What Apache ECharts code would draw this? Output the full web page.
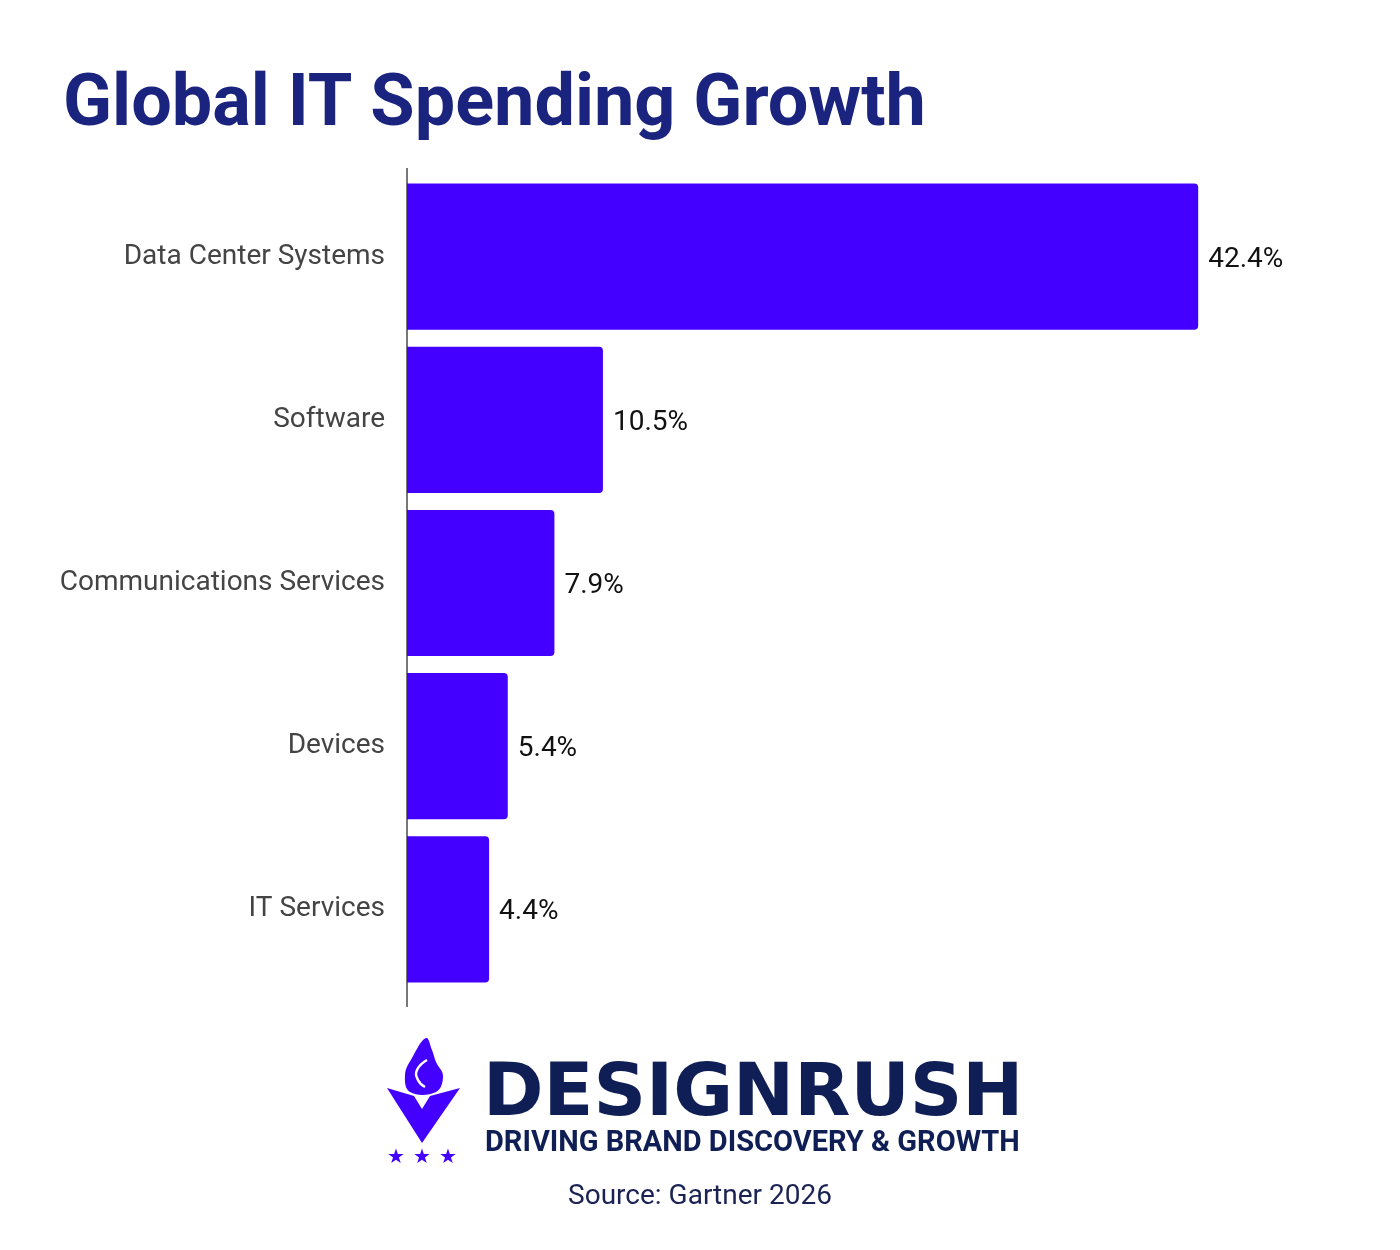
<!DOCTYPE html>
<html>
<head>
<meta charset="utf-8">
<title>Global IT Spending Growth</title>
<script src="https://cdn.jsdelivr.net/npm/echarts@6/dist/echarts.min.js"></script>
<style>
  html, body { margin: 0; padding: 0; background: #fff; }
  #chart { width: 1400px; height: 1250px; }
</style>
</head>
<body>
<div id="chart"></div>
<script>
// data
const categories = ['Data Center Systems', 'Software', 'Communications Services', 'Devices', 'IT Services']
const growth = [42.4, 10.5, 7.9, 5.4, 4.4]

const barColor = '#4400ff'
const navy = '#0f1f55'

const chart = echarts.init(document.getElementById('chart'))

const options = {
  backgroundColor: '#fff',
  animation: false,
  title: {
    text: 'Global IT Spending Growth',
    left: 58,
    top: 66,
    textStyle: {
      fontFamily: 'Roboto',
      fontSize: 72,
      fontWeight: 'bold',
      color: '#1a237e',
    },
  },
  grid: {
    top: 175,
    bottom: 259,
    left: 407,
    right: 60,
  },
  xAxis: {
    type: 'value',
    min: 0,
    max: 50,
    show: false,
  },
  yAxis: {
    type: 'category',
    data: categories,
    inverse: true,
    axisTick: { show: false },
    // axis line drawn below as a graphic, it runs past the bands
    axisLine: { show: false },
    axisLabel: {
      fontFamily: 'Roboto',
      fontSize: 28,
      color: '#444',
      margin: 22,
      padding: [6, 0, 0, 0],
    },
  },
  series: [
    {
      type: 'bar',
      data: growth,
      barCategoryGap: '10.4%',
      itemStyle: {
        color: barColor,
        borderRadius: [0, 4, 4, 0],
      },
      label: {
        show: true,
        position: 'right',
        distance: 10,
        offset: [0, 3],
        fontFamily: 'Roboto',
        fontSize: 28,
        color: '#111',
        formatter: (p) => p.value.toFixed(1) + '%',
      },
    },
  ],
  graphic: [
    {
      type: 'line',
      shape: { x1: 407, y1: 168, x2: 407, y2: 1007 },
      style: { stroke: '#777', lineWidth: 2 },
    },
    // logo emblem: V
    {
      type: 'polygon',
      shape: {
        points: [[387, 1088], [414, 1096], [422, 1109], [430, 1096], [460, 1088], [422, 1143]],
      },
      style: { fill: barColor },
    },
    // flame
    {
      type: 'polygon',
      shape: {
        points: [[426, 1038], [412, 1058], [405, 1075], [410, 1092], [436, 1092], [443, 1076], [436, 1062], [432, 1050]],
        smooth: 0.4,
      },
      style: { fill: barColor },
    },
    {
      type: 'polyline',
      shape: {
        points: [[427, 1060], [417, 1070], [418, 1080], [425, 1087]],
        smooth: 0.5,
      },
      style: { fill: null, stroke: '#fff', lineWidth: 2.5 },
    },
    // stars
    { type: 'text', left: 387, top: 1148, style: { text: '★', font: '20px "DejaVu Sans"', fill: barColor } },
    { type: 'text', left: 413, top: 1148, style: { text: '★', font: '20px "DejaVu Sans"', fill: barColor } },
    { type: 'text', left: 439, top: 1148, style: { text: '★', font: '20px "DejaVu Sans"', fill: barColor } },
    // wordmark
    {
      type: 'text',
      left: 483,
      top: 1060,
      style: { text: 'DESIGNRUSH', font: 'bold 73px "DejaVu Sans"', fill: navy },
    },
    {
      type: 'text',
      left: 485,
      top: 1129,
      style: { text: 'DRIVING BRAND DISCOVERY & GROWTH', font: 'bold 29px Roboto', fill: navy },
    },
    {
      type: 'text',
      left: 'center',
      top: 1183,
      style: { text: 'Source: Gartner 2026', font: '28px Roboto', fill: '#1a2353' },
    },
  ],
}

chart.setOption(options)
window.addEventListener('resize', function () {
  chart && chart.resize()
})
</script>
</body>
</html>
